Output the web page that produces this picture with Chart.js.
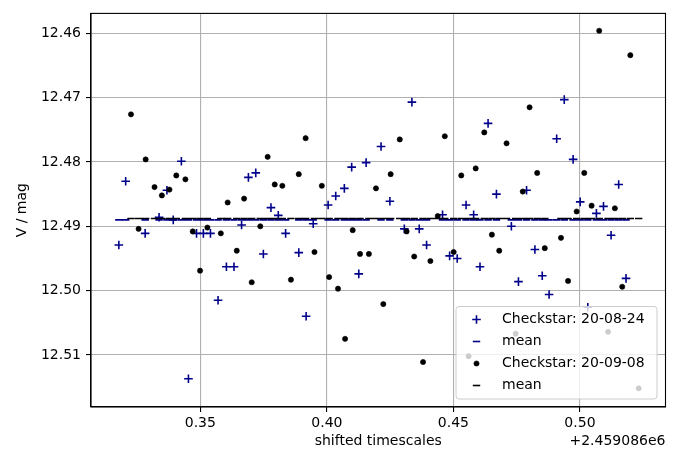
<!DOCTYPE html>
<html><head><meta charset="utf-8">
<script src="https://cdn.jsdelivr.net/npm/chart.js@4/dist/chart.umd.min.js"></script>
<style>html,body{margin:0;padding:0;background:#fff}#wrap{width:676px;height:456px}</style>
</head><body><div id="wrap"><canvas id="c" width="676" height="456"></canvas></div>
<script>
// x values are shifted times (JD - 2459086)
const xOffsetLabel = '+2.459086e6';
const xTitle = 'shifted timescales';
const yTitle = 'V / mag';
const seriesLabels = ['Checkstar: 20-08-24', 'mean', 'Checkstar: 20-09-08', 'mean'];

const timesA = [0.3178, 0.3205, 0.3282, 0.3337, 0.3368, 0.3393, 0.3425, 0.3453, 0.3485, 0.3512,
  0.3540, 0.3570, 0.3603, 0.3633, 0.3663, 0.3690, 0.3719, 0.3749, 0.3779, 0.3808,
  0.3837, 0.3889, 0.3918, 0.3946, 0.4005, 0.4035, 0.4069, 0.4098, 0.4126, 0.4155,
  0.4214, 0.4249, 0.4306, 0.4336, 0.4365, 0.4394, 0.4457, 0.4485, 0.4515, 0.4550,
  0.4580, 0.4605, 0.4637, 0.4670, 0.4729, 0.4757, 0.4789, 0.4822, 0.4851, 0.4878,
  0.4908, 0.4938, 0.4973, 0.5001, 0.5031, 0.5065, 0.5093, 0.5123, 0.5153, 0.5182];
const magsA = [12.4929, 12.4830, 12.4911, 12.4886, 12.4844, 12.4890, 12.4799, 12.5137, 12.4911, 12.4911,
  12.4911, 12.5015, 12.4963, 12.4963, 12.4898, 12.4824, 12.4817, 12.4943, 12.4871, 12.4883,
  12.4911, 12.4941, 12.5040, 12.4896, 12.4867, 12.4853, 12.4841, 12.4808, 12.4974, 12.4801,
  12.4776, 12.4861, 12.4904, 12.4707, 12.4904, 12.4929, 12.4882, 12.4946, 12.4950, 12.4867,
  12.4882, 12.4963, 12.4740, 12.4850, 12.4900, 12.4986, 12.4844, 12.4936, 12.4977, 12.5006,
  12.4764, 12.4703, 12.4796, 12.4862, 12.5026, 12.4880, 12.4869, 12.4914, 12.4835, 12.4981];
const meanA = 12.4890;

const timesB = [0.3226, 0.3256, 0.3284, 0.3319, 0.3348, 0.3378, 0.3405, 0.3441, 0.3470, 0.3499,
  0.3528, 0.3581, 0.3608, 0.3644, 0.3673, 0.3703, 0.3737, 0.3766, 0.3794, 0.3824,
  0.3858, 0.3889, 0.3916, 0.3951, 0.3980, 0.4009, 0.4044, 0.4072, 0.4102, 0.4131,
  0.4166, 0.4194, 0.4223, 0.4252, 0.4288, 0.4315, 0.4345, 0.4380, 0.4409, 0.4438,
  0.4466, 0.4501, 0.4531, 0.4560, 0.4588, 0.4622, 0.4652, 0.4681, 0.4710, 0.4746,
  0.4774, 0.4801, 0.4831, 0.4861, 0.4925, 0.4953, 0.4987, 0.5017, 0.5046, 0.5076,
  0.5111, 0.5138, 0.5167, 0.5199, 0.5232];
const magsB = [12.4726, 12.4904, 12.4796, 12.4839, 12.4852, 12.4843, 12.4821, 12.4827, 12.4908, 12.4969,
  12.4902, 12.4911, 12.4863, 12.4938, 12.4857, 12.4987, 12.4900, 12.4792, 12.4835, 12.4837,
  12.4983, 12.4819, 12.4763, 12.4940, 12.4837, 12.4979, 12.4997, 12.5075, 12.4906, 12.4943,
  12.4943, 12.4841, 12.5021, 12.4819, 12.4765, 12.4908, 12.4947, 12.5111, 12.4954, 12.4884,
  12.4760, 12.4940, 12.4821, 12.5102, 12.4810, 12.4754, 12.4913, 12.4938, 12.4771, 12.5067,
  12.4846, 12.4715, 12.4817, 12.4934, 12.4918, 12.4985, 12.4877, 12.4817, 12.4868, 12.4596,
  12.5064, 12.4872, 12.4994, 12.4634, 12.5152];
const meanB = 12.4888;

const xTicks = [0.35, 0.40, 0.45, 0.50];
const yTicks = [12.46, 12.47, 12.48, 12.49, 12.50, 12.51];

const FONT = 'DejaVu Sans';
const BLUE = '#00008b';

const datasets = [
  { label: seriesLabels[0], data: timesA.map((t, i) => ({x: t, y: magsA[i]})),
    pointStyle: 'cross', pointRadius: 4.3, pointHoverRadius: 4.3, pointBorderWidth: 1.6,
    borderColor: BLUE, backgroundColor: BLUE, order: 4 },
  { label: seriesLabels[1], data: timesA.map(t => ({x: t, y: meanA})),
    pointStyle: 'line', pointRadius: 3.7, pointHoverRadius: 3.7, pointBorderWidth: 1.6,
    borderColor: BLUE, backgroundColor: BLUE, order: 3 },
  { label: seriesLabels[2], data: timesB.map((t, i) => ({x: t, y: magsB[i]})),
    pointStyle: 'circle', pointRadius: 2.6, pointHoverRadius: 2.6, pointBorderWidth: 0.6,
    borderColor: '#000', backgroundColor: '#000', order: 2 },
  { label: seriesLabels[3], data: timesB.map(t => ({x: t, y: meanB})),
    pointStyle: 'line', pointRadius: 3.7, pointHoverRadius: 3.7, pointBorderWidth: 1.6,
    borderColor: '#000', backgroundColor: '#000', order: 1 }
];

const framePlugin = {
  id: 'frameLegend',
  afterDatasetsDraw(chart) {
    const {ctx, chartArea: a} = chart;
    ctx.save();
    ctx.strokeStyle = '#000';
    ctx.lineWidth = 1.1;
    ctx.strokeRect(a.left, a.top, a.right - a.left, a.bottom - a.top);
    ctx.restore();
  },
  afterDraw(chart) {
    const {ctx, chartArea: a} = chart;
    ctx.save();
    // offset text
    ctx.font = '14px "' + FONT + '"';
    ctx.fillStyle = '#000';
    ctx.textAlign = 'right';
    ctx.textBaseline = 'middle';
    ctx.fillText(xOffsetLabel, a.right, 441);
    // legend box
    const bx = 456, by = 306.5, bw = 201, bh = 92.5, r = 3;
    ctx.beginPath();
    ctx.moveTo(bx + r, by);
    ctx.lineTo(bx + bw - r, by); ctx.quadraticCurveTo(bx + bw, by, bx + bw, by + r);
    ctx.lineTo(bx + bw, by + bh - r); ctx.quadraticCurveTo(bx + bw, by + bh, bx + bw - r, by + bh);
    ctx.lineTo(bx + r, by + bh); ctx.quadraticCurveTo(bx, by + bh, bx, by + bh - r);
    ctx.lineTo(bx, by + r); ctx.quadraticCurveTo(bx, by, bx + r, by);
    ctx.closePath();
    ctx.fillStyle = 'rgba(255,255,255,0.8)';
    ctx.fill();
    ctx.strokeStyle = '#cccccc';
    ctx.lineWidth = 1;
    ctx.stroke();
    const rows = [319.5, 341.5, 363.5, 385.5];
    chart.data.datasets.forEach((ds, i) => {
      const y = rows[i];
      ctx.save();
      ctx.strokeStyle = ds.borderColor;
      ctx.fillStyle = ds.backgroundColor;
      ctx.lineWidth = ds.pointBorderWidth;
      Chart.helpers.drawPoint(ctx, {pointStyle: ds.pointStyle, rotation: 0,
        radius: ds.pointRadius, borderWidth: ds.pointBorderWidth}, 476.5, y);
      ctx.restore();
      ctx.fillStyle = '#000';
      ctx.textAlign = 'left';
      ctx.textBaseline = 'middle';
      ctx.font = '14px "' + FONT + '"';
      ctx.fillText(ds.label, 502, y);
    });
    ctx.restore();
  }
};

new Chart(document.getElementById('c'), {
  type: 'scatter',
  data: { datasets },
  plugins: [framePlugin],
  options: {
    responsive: false,
    animation: false,
    devicePixelRatio: 1,
    layout: { padding: { left: 0, right: 10.5, top: 7, bottom: 0 } },
    plugins: { legend: { display: false }, tooltip: { enabled: false } },
    scales: {
      x: {
        type: 'linear', min: 0.3068, max: 0.5338,
        afterBuildTicks: s => { s.ticks = xTicks.map(v => ({value: v})); },
        afterFit: s => { s.height = 49; },
        ticks: { callback: v => Number(v).toFixed(2), color: '#000', padding: 3,
          maxRotation: 0, autoSkip: false, font: { family: FONT, size: 14 } },
        grid: { color: '#b0b0b0', lineWidth: 1.1, drawTicks: true, tickLength: 5,
          tickColor: '#000', tickWidth: 1.1 },
        border: { display: true, color: '#000', width: 1.1 },
        title: { display: true, text: xTitle, color: '#000',
          font: { family: FONT, size: 14 }, padding: { top: 0, bottom: 6.6 } }
      },
      y: {
        type: 'linear', reverse: true, min: 12.4569, max: 12.5181,
        afterBuildTicks: s => { s.ticks = yTicks.map(v => ({value: v})); },
        afterFit: s => { s.width = 91; },
        ticks: { callback: v => Number(v).toFixed(2), color: '#000', padding: 5,
          autoSkip: false, font: { family: FONT, size: 14 } },
        grid: { color: '#b0b0b0', lineWidth: 1.1, drawTicks: true, tickLength: 5,
          tickColor: '#000', tickWidth: 1.1 },
        border: { display: true, color: '#000', width: 1.1 },
        title: { display: true, text: yTitle, color: '#000',
          font: { family: FONT, size: 14 }, padding: { top: 13.6, bottom: 0 } }
      }
    }
  }
});
</script>
</body></html>
